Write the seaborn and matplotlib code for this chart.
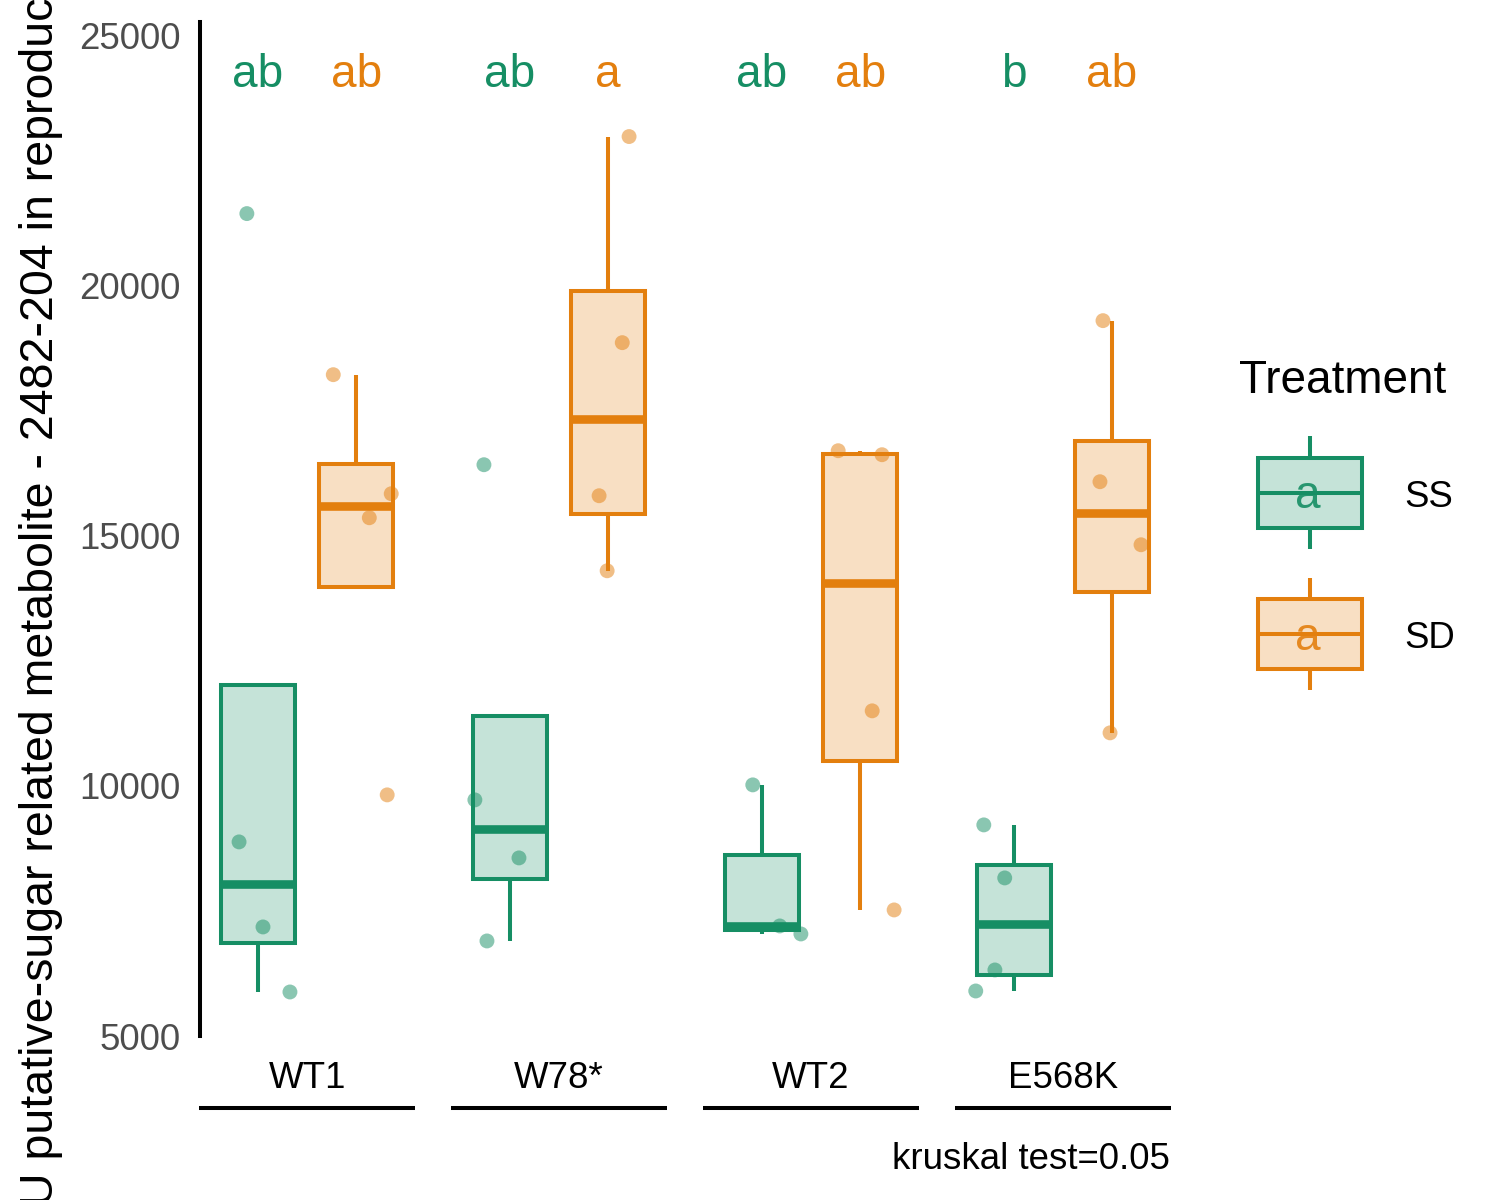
import numpy as np
import pandas as pd
import matplotlib
matplotlib.use("Agg")
import matplotlib.pyplot as plt
import matplotlib.transforms as mtransforms
import seaborn as sns

# ---------------- data ----------------
genotypes = ["WT1", "W78*", "WT2", "E568K"]
treatments = ["SS", "SD"]

ss_wt1 = [21440, 8880, 7180, 5880]
sd_wt1 = [18220, 15840, 15360, 9820]
ss_w78 = [16420, 9720, 8560, 6900]
sd_w78 = [22980, 18860, 15800, 14300]
ss_wt2 = [10020, 7200, 7040]
sd_wt2 = [16700, 16620, 11500, 7520]
ss_e568k = [9220, 8160, 6320, 5900]
sd_e568k = [19300, 16080, 14820, 11060]

# jitter offsets of the points (category units)
jit_ss_wt1 = [-0.044, -0.075, 0.020, 0.127]
jit_sd_wt1 = [-0.091, 0.139, 0.052, 0.123]
jit_ss_w78 = [-0.103, -0.139, 0.036, -0.091]
jit_sd_w78 = [0.083, 0.056, -0.036, -0.004]
jit_ss_wt2 = [-0.036, 0.071, 0.155]
jit_sd_wt2 = [-0.087, 0.087, 0.048, 0.135]
jit_ss_e568k = [-0.119, -0.036, -0.075, -0.151]
jit_sd_e568k = [-0.036, -0.048, 0.115, -0.008]

letters_ss = ["ab", "ab", "ab", "b"]
letters_sd = ["ab", "a", "ab", "ab"]

caption = "kruskal test=0.05"
y_label = "AU putative-sugar related metabolite - 2482-204 in reproductive tissue"
y_ticks = [5000, 10000, 15000, 20000, 25000]
letter_y = 23970

groups = [
    ("WT1", "SS", ss_wt1, jit_ss_wt1), ("WT1", "SD", sd_wt1, jit_sd_wt1),
    ("W78*", "SS", ss_w78, jit_ss_w78), ("W78*", "SD", sd_w78, jit_sd_w78),
    ("WT2", "SS", ss_wt2, jit_ss_wt2), ("WT2", "SD", sd_wt2, jit_sd_wt2),
    ("E568K", "SS", ss_e568k, jit_ss_e568k), ("E568K", "SD", sd_e568k, jit_sd_e568k),
]

rows = []
for g, t, vals, jit in groups:
    for v, j in zip(vals, jit):
        rows.append({"Genotype": g, "Treatment": t, "Value": v, "jit": j})
df = pd.DataFrame(rows)

# ---------------- style ----------------
sns.set_style("white")
plt.rcParams["font.family"] = ["Liberation Sans", "DejaVu Sans"]

edge = {"SS": "#168E64", "SD": "#E37F0E"}
fill = {"SS": "#C5E3D8", "SD": "#F8DFC3"}

BOX_W = 0.78
GAP = 0.245
LW = 2.9

fig = plt.figure(figsize=(15, 12), dpi=100)
ax = fig.add_axes([200 / 1500, 164 / 1200, 970 / 1500, 1014 / 1200])

sns.boxplot(data=df, x="Genotype", y="Value", hue="Treatment",
            order=genotypes, hue_order=treatments, palette=fill, saturation=1,
            linecolor="black", linewidth=LW, width=BOX_W, gap=GAP,
            showfliers=False, showcaps=False,
            medianprops={"linewidth": 6.2, "solid_capstyle": "butt"},
            whiskerprops={"linewidth": LW, "solid_capstyle": "butt"},
            legend=False, ax=ax)


def side(xs):
    xm = float(np.mean(xs))
    return "SS" if xm - round(xm) < 0 else "SD"


# colour the box outlines / whiskers / medians like their treatment
for p in list(ax.patches):
    verts = p.get_path().vertices
    xs = p.get_transform().transform(verts)
    xs = ax.transData.inverted().transform(xs)[:, 0]
    p.set_edgecolor(edge[side(xs)])
for ln in list(ax.lines):
    xd = np.asarray(ln.get_xdata(), dtype=float)
    if xd.size:
        ln.set_color(edge[side(xd)])

# points (dodged + jitter)
code = {g: i for i, g in enumerate(genotypes)}
dodge = {"SS": -BOX_W / 4, "SD": BOX_W / 4}
df["xpos"] = [code[g] + dodge[t] + j for g, t, j in zip(df["Genotype"], df["Treatment"], df["jit"])]
sns.scatterplot(data=df, x="xpos", y="Value", hue="Treatment", hue_order=treatments,
                palette=edge, alpha=0.5, s=115, linewidth=0, legend=False, ax=ax, zorder=5)

# significance letters
for i, g in enumerate(genotypes):
    ax.text(i + dodge["SS"], letter_y, letters_ss[i], ha="center", va="baseline",
            fontsize=33, color=edge["SS"])
    ax.text(i + dodge["SD"], letter_y, letters_sd[i], ha="center", va="baseline",
            fontsize=33, color=edge["SD"])

ax.set_xlim(-0.425, 3.425)
ax.set_ylim(5000, 25270)
ax.set_xlabel("")
ax.set_ylabel("")
ax.set_xticks(range(len(genotypes)))
ax.set_xticklabels(genotypes, fontsize=26.4, color="black")
ax.set_yticks(y_ticks)
ax.set_yticklabels([str(v) for v in y_ticks], fontsize=26.4, color="#4D4D4D")
ax.tick_params(axis="x", length=0, pad=18)
ax.tick_params(axis="y", length=7.2, width=LW, pad=7, color="black")
for s in ["top", "right", "bottom"]:
    ax.spines[s].set_visible(False)
ax.spines["left"].set_linewidth(LW)
ax.spines["left"].set_color("black")
ax.grid(False)

# group underline segments
trans = mtransforms.blended_transform_factory(ax.transData, ax.transAxes)
for i in range(len(genotypes)):
    ax.plot([i - 0.427, i + 0.427], [-0.071, -0.071], transform=trans, clip_on=False,
            color="black", lw=LW, solid_capstyle="butt")

# y label (partly outside the figure, as in the original)
fig.text(53 / 1500, 1 - 1237 / 1200, y_label, rotation=90, rotation_mode="anchor",
         ha="left", va="baseline", fontsize=33.5, color="black")

# caption
fig.text(1170 / 1500, 1 - 1169 / 1200, caption, ha="right", va="baseline",
         fontsize=26.4, color="black")

# legend (ggplot style keys)
lax = fig.add_axes([0, 0, 1, 1], zorder=10)
lax.set_xlim(0, 1500)
lax.set_ylim(1200, 0)
lax.axis("off")
lax.patch.set_alpha(0)
lax.text(1239, 393, "Treatment", ha="left", va="baseline", fontsize=33, color="black")
key_specs = [("SS", 457.5, 527.5, 436, 549), ("SD", 598.5, 669, 578, 690)]
for t, top, bot, wt, wb in key_specs:
    mid = (top + bot) / 2
    lax.add_patch(plt.Rectangle((1257.5, top), 1362 - 1257.5, bot - top,
                                facecolor=fill[t], edgecolor=edge[t], lw=LW))
    lax.plot([1257.5, 1362], [mid, mid], color=edge[t], lw=LW, solid_capstyle="butt")
    lax.plot([1309.5, 1309.5], [wt, top], color=edge[t], lw=LW, solid_capstyle="butt")
    lax.plot([1309.5, 1309.5], [bot, wb], color=edge[t], lw=LW, solid_capstyle="butt")
    lax.text(1308, mid + 16, "a", ha="center", va="baseline", fontsize=33,
             color=edge[t], alpha=0.9)
    lax.text(1404, mid + 14.5, t, ha="left", va="baseline", fontsize=26.4, color="black")

fig.savefig("out.png", dpi=100)
